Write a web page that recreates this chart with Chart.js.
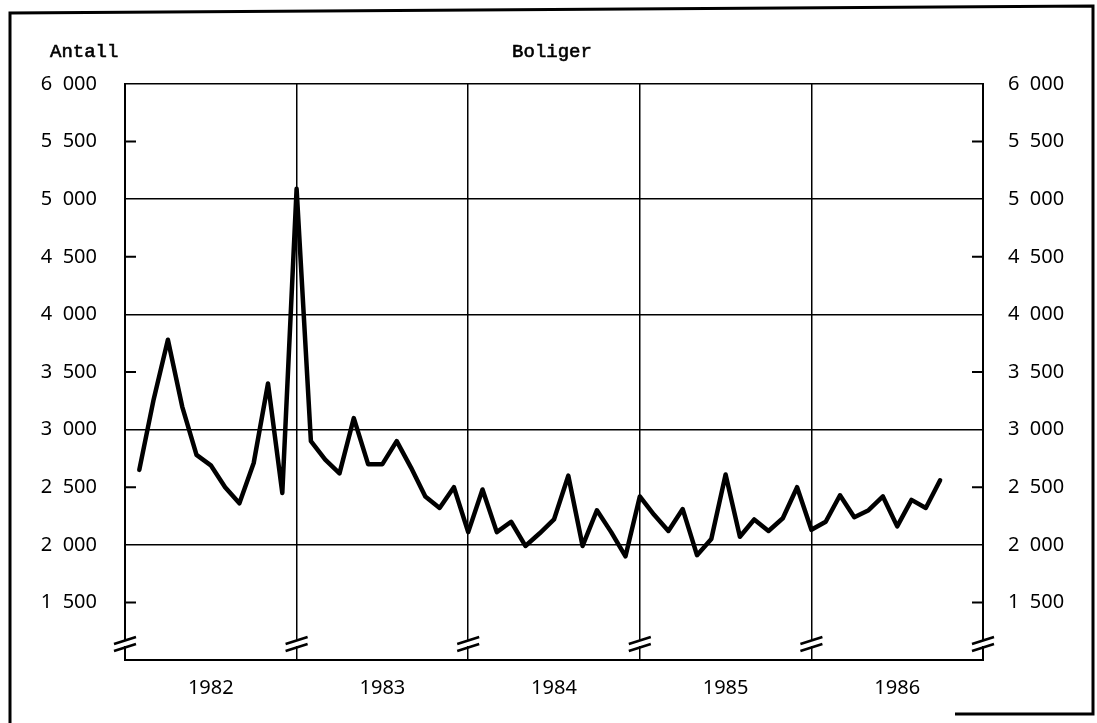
<!DOCTYPE html>
<html>
<head>
<meta charset="utf-8">
<title>Boliger</title>
<script src="https://cdn.jsdelivr.net/npm/chart.js@4"></script>
<style>
    html, body { margin: 0; padding: 0; background: #fff; }
    #wrap { position: relative; width: 1097px; height: 723px; }
</style>
</head>
<body>
<div id="wrap"><canvas id="boligChart" width="1097" height="723"></canvas></div>
<script>
// Monthly values, Jan 1982 - Sep 1986
const years = ['1982', '1983', '1984', '1985', '1986'];
const values1982 = [2650, 3260, 3780, 3200, 2780, 2690, 2500, 2360, 2710, 3400, 2450, 5090];
const values1983 = [2900, 2740, 2620, 3100, 2700, 2700, 2900, 2670, 2420, 2320, 2500, 2110];
const values1984 = [2480, 2110, 2200, 1990, 2100, 2220, 2600, 1990, 2300, 2110, 1900, 2420];
const values1985 = [2260, 2120, 2310, 1910, 2050, 2610, 2070, 2220, 2120, 2230, 2500, 2130];
const values1986 = [2200, 2430, 2240, 2300, 2420, 2160, 2390, 2320, 2560];
const yTicks = [1500, 2000, 2500, 3000, 3500, 4000, 4500, 5000, 5500, 6000];

const allValues = [].concat(values1982, values1983, values1984, values1985, values1986);
// each point sits at the end of its month
const points = allValues.map((v, i) => ({ x: i + 1, y: v }));

const numFont = { family: "'Noto Sans', sans-serif", size: 20 };
const monoFont = "19px 'Liberation Mono', 'DejaVu Sans Mono', monospace";

const fmt = (v) => {
    if (v < 1500) return '';
    const s = String(v);
    return s.slice(0, s.length - 3) + '  ' + s.slice(-3);
};

// frame, headings, inner half ticks and axis breaks
const decorPlugin = {
    id: 'decor',
    afterDraw(chart) {
        const ctx = chart.ctx;
        const area = chart.chartArea;
        const yScale = chart.scales.y;
        const xScale = chart.scales.x;
        ctx.save();

        // outer frame
        ctx.strokeStyle = '#000';
        ctx.lineWidth = 3;
        ctx.beginPath();
        ctx.moveTo(10, 723);
        ctx.lineTo(10, 13);
        ctx.lineTo(1093, 6);
        ctx.lineTo(1093, 714);
        ctx.lineTo(955, 714);
        ctx.stroke();

        // headings
        ctx.fillStyle = '#000';
        ctx.strokeStyle = '#000';
        ctx.lineWidth = 0.6;
        ctx.font = monoFont;
        ctx.textBaseline = 'alphabetic';
        ctx.textAlign = 'left';
        ctx.fillText('Antall', 50, 57);
        ctx.strokeText('Antall', 50, 57);
        ctx.textAlign = 'center';
        ctx.fillText('Boliger', 552, 57);
        ctx.strokeText('Boliger', 552, 57);

        // half-step ticks inside the plot
        ctx.lineWidth = 2;
        yTicks.filter(v => v % 1000 !== 0).forEach(v => {
            const py = yScale.getPixelForValue(v);
            ctx.beginPath();
            ctx.moveTo(area.left, py);
            ctx.lineTo(area.left + 11, py);
            ctx.moveTo(area.right - 11, py);
            ctx.lineTo(area.right, py);
            ctx.stroke();
        });

        // axis break marks on each year line
        const by = yScale.getPixelForValue(1130);
        for (let m = 0; m <= 60; m += 12) {
            const px = xScale.getPixelForValue(m);
            ctx.strokeStyle = '#fff';
            ctx.lineWidth = 4;
            ctx.beginPath();
            ctx.moveTo(px, by - 4);
            ctx.lineTo(px, by + 1);
            ctx.stroke();
            ctx.strokeStyle = '#000';
            ctx.lineWidth = 2.5;
            ctx.beginPath();
            ctx.moveTo(px - 11, by - 1);
            ctx.lineTo(px + 11, by - 8);
            ctx.moveTo(px - 11, by + 6);
            ctx.lineTo(px + 11, by - 1);
            ctx.stroke();
        }
        ctx.restore();
    }
};

new Chart(document.getElementById('boligChart'), {
    type: 'line',
    data: {
        datasets: [{
            label: 'Boliger',
            data: points,
            borderColor: '#000',
            borderWidth: 4.5,
            borderJoinStyle: 'round',
            borderCapStyle: 'round',
            pointRadius: 0,
            tension: 0,
            fill: false
        }]
    },
    options: {
        responsive: false,
        animation: false,
        devicePixelRatio: 1,
        layout: { padding: { top: 84, left: 0, right: 0, bottom: 0 } },
        plugins: {
            legend: { display: false },
            tooltip: { enabled: false }
        },
        scales: {
            x: {
                type: 'linear',
                min: 0,
                max: 60,
                afterBuildTicks: (scale) => {
                    scale.ticks = [];
                    for (let m = 0; m <= 60; m += 6) scale.ticks.push({ value: m });
                },
                afterFit: (scale) => { scale.height = 63; },
                grid: {
                    color: (c) => (c.tick && c.tick.value % 12 === 0) ? '#000' : 'rgba(0,0,0,0)',
                    lineWidth: 1.5,
                    drawTicks: false
                },
                border: { color: '#000', width: 2 },
                ticks: {
                    autoSkip: false,
                    maxRotation: 0,
                    padding: 16,
                    color: '#000',
                    font: numFont,
                    callback: (v) => (v % 12 === 6) ? years[(v - 6) / 12] : ''
                }
            },
            y: {
                position: 'left',
                min: 1000,
                max: 6000,
                afterBuildTicks: (scale) => {
                    scale.ticks = [{ value: 1000 }].concat(yTicks.map(v => ({ value: v })));
                },
                afterFit: (scale) => { scale.width = 125; },
                grid: {
                    color: (c) => (c.tick && c.tick.value % 1000 === 0) ? '#000' : 'rgba(0,0,0,0)',
                    lineWidth: 1.5,
                    drawTicks: false
                },
                border: { color: '#000', width: 2 },
                ticks: {
                    padding: 28,
                    color: '#000',
                    font: numFont,
                    callback: fmt
                }
            },
            y2: {
                position: 'right',
                min: 1000,
                max: 6000,
                afterBuildTicks: (scale) => {
                    scale.ticks = [{ value: 1000 }].concat(yTicks.map(v => ({ value: v })));
                },
                afterFit: (scale) => { scale.width = 114; },
                grid: { display: false, drawTicks: false },
                border: { color: '#000', width: 2 },
                ticks: {
                    padding: 25,
                    color: '#000',
                    font: numFont,
                    callback: fmt
                }
            }
        }
    },
    plugins: [decorPlugin]
});
</script>
</body>
</html>
